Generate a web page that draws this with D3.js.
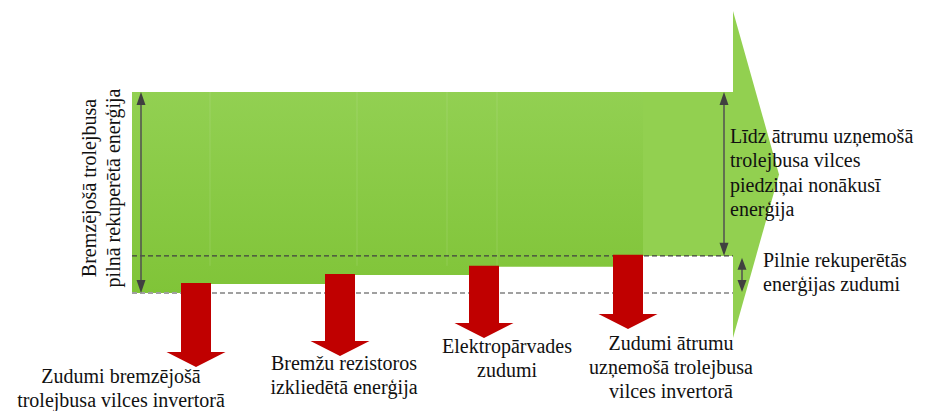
<!DOCTYPE html>
<html>
<head>
<meta charset="utf-8">
<script src="https://cdn.jsdelivr.net/npm/d3@7"></script>
<style>
  html, body { margin: 0; padding: 0; background: #fff; }
  svg { display: block; }
</style>
</head>
<body>
<svg id="chart" width="930" height="411"></svg>
<script>
// ---- data ----
const totalEnergy = 100; // full recovered braking energy (%)
const lossNames = ["invBrake", "resistor", "line", "invAccel"];
const lossValues = [4.5, 4.5, 4.0, 5.5]; // % of full recovered energy
const lossLabels = [
  ["Zudumi bremzējošā", "trolejbusa vilces invertorā"],
  ["Bremžu rezistoros", "izkliedētā enerģija"],
  ["Elektropārvades", "zudumi"],
  ["Zudumi ātrumu", "uzņemošā trolejbusa", "vilces invertorā"]
];
const leftLabel = ["Bremzējošā trolejbusa", "pilnā rekuperētā enerģija"];
const usefulLabel = ["Līdz ātrumu uzņemošā", "trolejbusa vilces", "piedziņai nonākusī", "enerģija"];
const lossTotalLabel = ["Pilnie rekuperētās", "enerģijas zudumi"];

// ---- layout ----
const FONT = "'Liberation Serif', Tinos, 'Times New Roman', Times, 'Nimbus Roman', 'Nimbus Roman No9 L', FreeSerif, 'Noto Serif', 'DejaVu Serif', Georgia, serif";
const bandLeft = 132, bandRight = 733;
const headTop = 11, headBottom = 338, headTip = 779;
const shaftHalf = 15, headHalf = 29.5, headLen = 15;
const arrowTipY = [367, 356, 338, 329];
const labelDx = [-75, 4, 23, 43];
const labelY = [383, 370, 353, 350];
const lineH = 24;

const svg = d3.select("#chart");
const defs = svg.append("defs");

const y = d3.scaleLinear().domain([0, totalEnergy]).range([293, 92]);
const x = d3.scalePoint().domain(lossNames).range([196, 628]);

const cum = d3.cumsum(lossValues);
const totalLoss = cum[cum.length - 1];

function txt(sel) {
  return sel.append("text").attr("font-family", FONT).attr("font-size", 20).attr("fill", "#111");
}

// gradient for band
const grad = defs.append("linearGradient").attr("id", "g1")
  .attr("gradientUnits", "userSpaceOnUse")
  .attr("x1", 0).attr("y1", y(totalEnergy)).attr("x2", 0).attr("y2", y(0));
grad.append("stop").attr("offset", 0).attr("stop-color", "#92d052");
grad.append("stop").attr("offset", 1).attr("stop-color", "#80c438");

// band path with steps at each loss arrow
const pts = [[bandLeft, y(totalEnergy)], [bandRight, y(totalEnergy)], [bandRight, y(totalLoss)]];
for (let i = lossNames.length - 1; i >= 0; i--) {
  const xl = x(lossNames[i]) - shaftHalf;
  pts.push([xl, y(cum[i])]);
  pts.push([xl, y(i === 0 ? 0 : cum[i - 1])]);
}
pts.push([bandLeft, y(0)]);
svg.append("path")
  .attr("d", d3.line()(pts) + "Z")
  .attr("fill", "url(#g1)");

// last (lighter) segment + big arrow head
const lastX = x(lossNames[lossNames.length - 1]) + shaftHalf;
svg.append("rect")
  .attr("x", lastX).attr("y", y(totalEnergy))
  .attr("width", bandRight - lastX).attr("height", y(totalLoss) - y(totalEnergy))
  .attr("fill", "#92d050");
svg.append("path")
  .attr("d", d3.line()([[bandRight, headTop], [headTip, (headTop + headBottom) / 2], [bandRight, headBottom]]) + "Z")
  .attr("fill", "#92d050");

// faint segment boundaries
[210, 357, 447, 497].forEach(bx => {
  svg.append("line").attr("x1", bx).attr("x2", bx)
    .attr("y1", y(totalEnergy)).attr("y2", y(totalLoss) + 10)
    .attr("stroke", "rgba(255,255,255,0.12)").attr("stroke-width", 1);
});

// dashed reference lines
svg.append("line")
  .attr("x1", bandLeft).attr("x2", bandRight)
  .attr("y1", y(totalLoss)).attr("y2", y(totalLoss))
  .attr("stroke", "#404040").attr("stroke-width", 1.2).attr("stroke-dasharray", "5,3");
svg.append("line")
  .attr("x1", bandLeft).attr("x2", bandRight)
  .attr("y1", y(0)).attr("y2", y(0))
  .attr("stroke", "#a0a0a0").attr("stroke-width", 1.8).attr("stroke-dasharray", "5,3");

// red loss arrows
lossNames.forEach((n, i) => {
  const cx = x(n), top = y(cum[i]) - 1, tip = arrowTipY[i], hs = tip - headLen;
  const p = [[cx - shaftHalf, top], [cx + shaftHalf, top], [cx + shaftHalf, hs], [cx + headHalf, hs],
             [cx, tip], [cx - headHalf, hs], [cx - shaftHalf, hs]];
  svg.append("path").attr("d", d3.line()(p) + "Z").attr("fill", "#c00000");
  const t = txt(svg).attr("text-anchor", "middle");
  lossLabels[i].forEach((s, k) => {
    t.append("tspan").attr("x", cx + labelDx[i]).attr("y", labelY[i] + k * lineH).text(s);
  });
});

// double-headed dimension arrows
function dimArrow(ax, y1, y2, hw, hl) {
  const g = svg.append("g");
  g.append("line").attr("x1", ax).attr("x2", ax).attr("y1", y1 + hl - 1).attr("y2", y2 - hl + 1)
    .attr("stroke", "#505050").attr("stroke-width", 1.5);
  g.append("path").attr("d", d3.line()([[ax, y1], [ax + hw, y1 + hl], [ax - hw, y1 + hl]]) + "Z").attr("fill", "#404040");
  g.append("path").attr("d", d3.line()([[ax, y2], [ax + hw, y2 - hl], [ax - hw, y2 - hl]]) + "Z").attr("fill", "#404040");
}
dimArrow(141, y(totalEnergy), y(0), 4.5, 13);
dimArrow(724, y(totalEnergy), y(totalLoss), 4.5, 13);
dimArrow(742, y(totalLoss) + 2, y(0) - 1, 4.5, 12);

// left rotated label
const lt = txt(svg).attr("text-anchor", "middle")
  .attr("transform", "translate(96,188) rotate(-90)");
leftLabel.forEach((s, k) => lt.append("tspan").attr("x", 0).attr("y", k * lineH).text(s));

// right labels
const ut = txt(svg);
usefulLabel.forEach((s, k) => ut.append("tspan").attr("x", 730).attr("y", 143 + k * 24.4).text(s));
const lt2 = txt(svg);
lossTotalLabel.forEach((s, k) => lt2.append("tspan").attr("x", 763).attr("y", 267 + k * 24).text(s));
</script>
</body>
</html>
